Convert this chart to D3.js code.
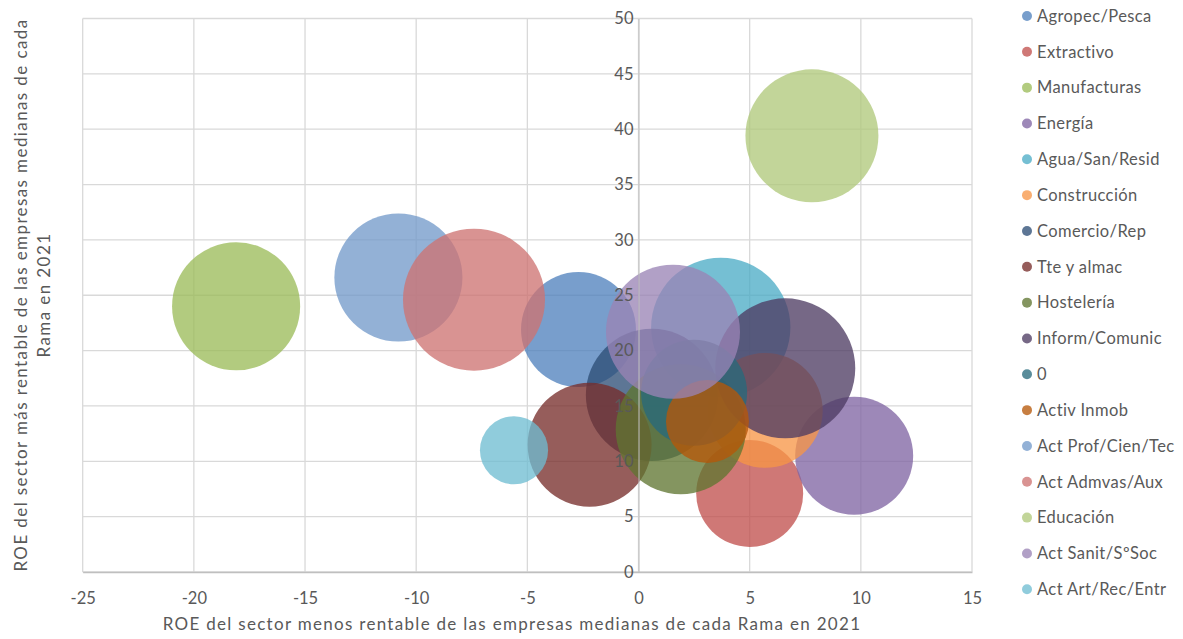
<!DOCTYPE html>
<html>
<head>
<meta charset="utf-8">
<script src="https://cdn.jsdelivr.net/npm/d3@7"></script>
<style>
  body { margin: 0; background: #fff; }
  text { font-family: Lato, "Open Sans", sans-serif; fill: #595959; }
</style>
</head>
<body>
<div id="graph_draw"></div>
<script>
// series names (legend order)
var categories = ["Agropec/Pesca", "Extractivo", "Manufacturas", "Energía", "Agua/San/Resid",
    "Construcción", "Comercio/Rep", "Tte y almac", "Hostelería", "Inform/Comunic", "0",
    "Activ Inmob", "Act Prof/Cien/Tec", "Act Admvas/Aux", "Educación", "Act Sanit/SºSoc",
    "Act Art/Rec/Entr"];
// ROE del sector menos rentable (x)
var roeMin = [-2.7, 5.0, -18.1, 9.7, 3.7, 5.7, 0.6, -2.2, 1.9, 6.6, 2.5, 3.1, -10.8, -7.4, 7.8, 1.55, -5.6];
// ROE del sector mas rentable (y)
var roeMax = [21.9, 7.1, 24.0, 10.5, 22.1, 14.6, 16.0, 11.5, 12.9, 18.4, 16.2, 13.6, 26.6, 24.6, 39.4, 21.7, 11.0];
// bubble sizes
var bubbleSize = [33, 28.6, 41, 34.8, 48.5, 33, 43.6, 38.4, 42.3, 49, 28.1, 17.2, 41, 50.4, 44.2, 44.9, 11.6];
// axis ticks
var xTicks = [-25, -20, -15, -10, -5, 0, 5, 10, 15];
var yTicks = [0, 5, 10, 15, 20, 25, 30, 35, 40, 45, 50];

// excel 2010 palette
var palette = ["#4F81BD", "#C0504D", "#9BBB59", "#8064A2", "#4BACC6", "#F79646",
    "#2C4D75", "#772C2A", "#5F7530", "#4D3B62", "#276A7C", "#B65708",
    "#729ACA", "#CD7371", "#AFC97A", "#9983B5", "#6FBDD1"];

var W = 1183, H = 639;
var plot = {left: 82.7, right: 972, top: 18.5, bottom: 572};

var svg = d3.select("#graph_draw").append("svg")
    .attr("width", W)
    .attr("height", H);

// scales
var x = d3.scaleLinear().domain([-25, 15]).range([plot.left, plot.right]);
var y = d3.scaleLinear().domain([0, 50]).range([plot.bottom, plot.top]);
var r = d3.scaleSqrt().domain([0, d3.max(bubbleSize)]).range([0, 71]);
var plain = function(d) { return String(d); }; // keep "-" instead of unicode minus

// gridlines
svg.append("g")
    .selectAll("line.v").data(xTicks).enter().append("line")
    .attr("x1", function(d) { return x(d); })
    .attr("x2", function(d) { return x(d); })
    .attr("y1", plot.top).attr("y2", plot.bottom)
    .attr("stroke", "#d9d9d9").attr("stroke-width", 1.3);
svg.append("g")
    .selectAll("line.h").data(yTicks).enter().append("line")
    .attr("x1", plot.left).attr("x2", plot.right)
    .attr("y1", function(d) { return y(d); })
    .attr("y2", function(d) { return y(d); })
    .attr("stroke", "#d9d9d9").attr("stroke-width", 1.3);

// X axis labels below the plot
var xAxis = svg.append("g")
    .attr("transform", "translate(0," + plot.bottom + ")")
    .call(d3.axisBottom(x).tickValues(xTicks).tickFormat(plain).tickSize(0).tickPadding(20));
xAxis.select(".domain").attr("stroke", "#bfbfbf").attr("stroke-width", 1.3);
xAxis.selectAll("text").style("font-size", "16.5px").attr("fill", "#595959");

// bubbles
svg.append("g")
    .selectAll("circle").data(categories).enter().append("circle")
    .attr("cx", function(d, i) { return x(roeMin[i]); })
    .attr("cy", function(d, i) { return y(roeMax[i]); })
    .attr("r", function(d, i) { return r(bubbleSize[i]); })
    .attr("fill", function(d, i) { return palette[i]; })
    .attr("fill-opacity", 0.77);

// Y axis sits on x = 0, drawn over the bubbles like excel
var yAxis = svg.append("g")
    .attr("transform", "translate(" + x(0) + ",0)")
    .call(d3.axisLeft(y).tickValues(yTicks).tickFormat(plain).tickSize(0).tickPadding(5));
yAxis.select(".domain").attr("stroke", "#bfbfbf").attr("stroke-width", 1.3).attr("stroke-opacity", 0.8);
yAxis.selectAll("text").style("font-size", "16.5px").attr("fill", "#595959").attr("dy", "0.32em");

// axis titles
svg.append("text")
    .attr("x", 512).attr("y", 630)
    .attr("text-anchor", "middle")
    .style("font-size", "17px").style("letter-spacing", "1.3px")
    .text("ROE del sector menos  rentable de las empresas medianas de cada Rama en 2021");

var yt = svg.append("text")
    .attr("transform", "translate(27,295) rotate(-90)")
    .attr("text-anchor", "middle")
    .style("font-size", "17px").style("letter-spacing", "1.4px");
yt.append("tspan").attr("x", 0).attr("dy", 0)
    .text("ROE del sector más rentable de las empresas medianas de cada");
yt.append("tspan").attr("x", 0).attr("dy", 23).text("Rama en 2021");

// legend
var legend = svg.append("g").selectAll("g").data(categories).enter().append("g")
    .attr("transform", function(d, i) { return "translate(1027," + (16 + i * 35.83) + ")"; });
legend.append("circle")
    .attr("r", 5)
    .attr("fill", function(d, i) { return palette[i]; })
    .attr("fill-opacity", 0.77);
legend.append("text")
    .attr("x", 10).attr("dy", "0.35em")
    .style("font-size", "16.5px").style("letter-spacing", "0.4px")
    .text(function(d) { return d; });
</script>
</body>
</html>
